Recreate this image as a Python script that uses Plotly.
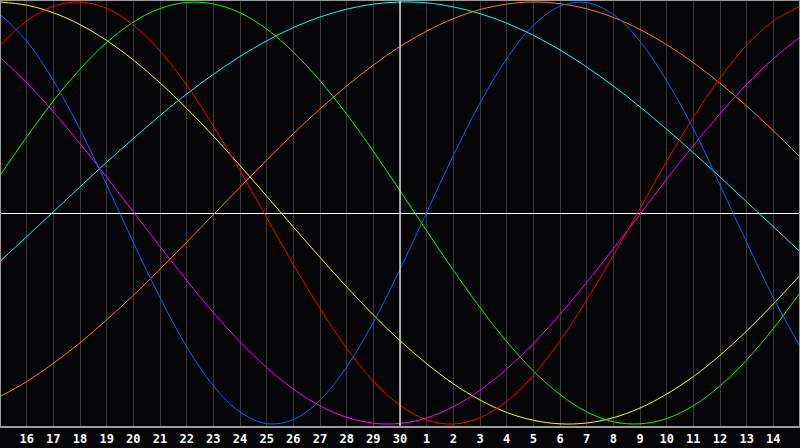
import plotly.graph_objects as go

days = list(range(0, 31))
tick_pos = list(range(1, 30))
tick_labels = [str(d) for d in range(16, 31)] + [str(d) for d in range(1, 15)]

physical = [0.942, 0.815, 0.628, 0.396, 0.134, -0.139, -0.401, -0.633, -0.818, -0.943, -0.998,
            -0.979, -0.887, -0.729, -0.518, -0.267, 0.003, 0.273, 0.521, 0.731, 0.889,
            0.980, 0.997, 0.941, 0.814, 0.627, 0.400, 0.133, -0.139, -0.401, -0.633]
emotional = [0.795, 0.910, 0.980, 1.000, 0.970, 0.891, 0.768, 0.606, 0.413, 0.201, -0.022,
             -0.244, -0.453, -0.641, -0.797, -0.911, -0.980, -1.000, -0.970, -0.892, -0.769,
             -0.605, -0.413, -0.201, 0.022, 0.245, 0.454, 0.640, 0.796, 0.910, 0.980]
intellectual = [0.178, 0.360, 0.531, 0.682, 0.808, 0.905, 0.969, 0.998, 0.991, 0.949, 0.872,
                0.763, 0.627, 0.469, 0.293, 0.106, -0.084, -0.271, -0.448, -0.609, -0.748,
                -0.860, -0.942, -0.989, -0.999, -0.974, -0.913, -0.819, -0.696, -0.547, -0.378]
intuitive = [0.738, 0.618, 0.480, 0.329, 0.170, 0.005, -0.159, -0.319, -0.472, -0.610, -0.732,
             -0.834, -0.914, -0.968, -0.996, -0.997, -0.971, -0.918, -0.840, -0.739, -0.618,
             -0.480, -0.329, -0.169, -0.005, 0.160, 0.320, 0.471, 0.610, 0.731, 0.834]
aesthetic = [1.000, 0.985, 0.949, 0.893, 0.818, 0.725, 0.617, 0.496, 0.365, 0.225, 0.080,
             -0.066, -0.210, -0.350, -0.483, -0.605, -0.714, -0.809, -0.886, -0.945, -0.982,
             -0.999, -0.995, -0.970, -0.924, -0.858, -0.775, -0.674, -0.559, -0.431, -0.295]
awareness = [-0.870, -0.799, -0.712, -0.615, -0.506, -0.390, -0.266, -0.138, -0.008, 0.122, 0.251,
             0.376, 0.493, 0.602, 0.701, 0.789, 0.862, 0.921, 0.964, 0.990, 1.000,
             0.992, 0.968, 0.927, 0.870, 0.798, 0.713, 0.615, 0.507, 0.390, 0.266]
spiritual = [-0.229, -0.112, 0.006, 0.124, 0.241, 0.353, 0.462, 0.564, 0.657, 0.742, 0.816,
             0.879, 0.929, 0.966, 0.990, 1.000, 0.996, 0.977, 0.945, 0.900, 0.842,
             0.773, 0.692, 0.602, 0.503, 0.397, 0.286, 0.171, 0.053, -0.065, -0.183]

series = [
    ("Awareness", awareness, "#ff8000"),
    ("Spiritual", spiritual, "#00ffff"),
    ("Intuitive", intuitive, "#ff00ff"),
    ("Aesthetic", aesthetic, "#ffff00"),
    ("Intellectual", intellectual, "#00ff00"),
    ("Emotional", emotional, "#ff0000"),
    ("Physical", physical, "#0066ff"),
]

fig = go.Figure()
for name, vals, color in series:
    fig.add_trace(go.Scatter(x=days, y=vals, mode="lines", name=name,
                             line=dict(color=color, width=1, shape="spline", smoothing=1.0),
                             hoverinfo="skip"))

today = 15
fig.add_shape(type="line", xref="x", yref="paper", x0=today, x1=today, y0=0, y1=1,
              line=dict(color="#ffffff", width=1.2), layer="above")
fig.add_shape(type="rect", xref="paper", yref="paper", x0=0, x1=1, y0=0, y1=1,
              line=dict(color="#9a9a9a", width=2), layer="above")

fig.update_layout(
    width=800, height=448,
    margin=dict(l=0, r=0, t=0, b=21),
    paper_bgcolor="#050507",
    plot_bgcolor="#050507",
    showlegend=False,
    xaxis=dict(range=[0, 30], tickvals=tick_pos, ticktext=tick_labels,
               showgrid=True, gridcolor="#3a3a3a", gridwidth=1, zeroline=False,
               ticks="", showline=False, ticklabelstandoff=3,
               tickfont=dict(family="DejaVu Sans Mono", size=12, color="#ffffff", weight="bold"),
               fixedrange=True),
    yaxis=dict(range=[-1.014, 1.0095], showgrid=False, showticklabels=False,
               zeroline=True, zerolinecolor="#ffffff", zerolinewidth=1,
               fixedrange=True),
)

fig.write_html("out.html", config={"displayModeBar": False, "staticPlot": True},
               post_script="document.body.style.margin='0';document.body.style.overflow='hidden';document.body.style.background='#050507';")
